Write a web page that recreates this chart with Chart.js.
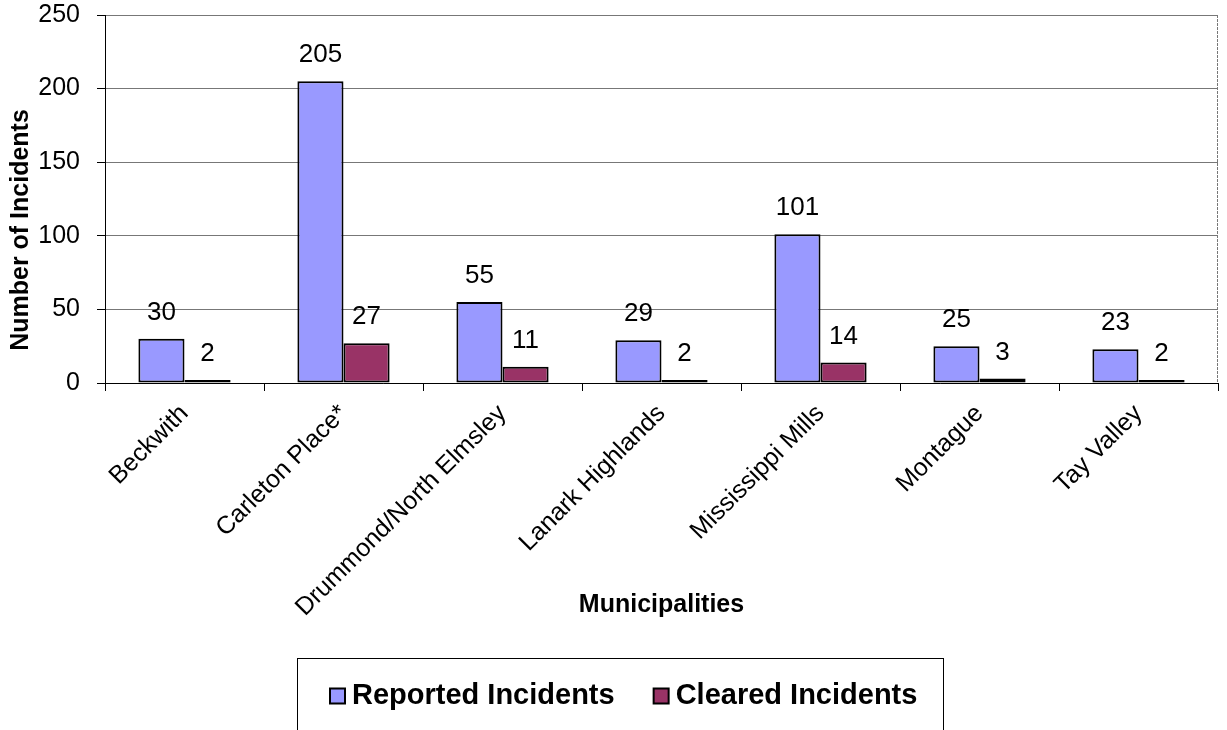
<!DOCTYPE html>
<html>
<head>
<meta charset="utf-8">
<script src="https://cdn.jsdelivr.net/npm/chart.js@4/dist/chart.umd.min.js"></script>
<style>
  html, body { margin: 0; padding: 0; background: #fff; }
  #wrap { width: 1227px; height: 730px; }
</style>
</head>
<body>
<div id="wrap"><canvas id="barChart" width="1227" height="730"></canvas></div>
<script>
const municipalities = [
  "Beckwith",
  "Carleton Place*",
  "Drummond/North Elmsley",
  "Lanark Highlands",
  "Mississippi Mills",
  "Montague",
  "Tay Valley",
];
const reportedIncidents = [30, 205, 55, 29, 101, 25, 23];
const clearedIncidents = [2, 27, 11, 2, 14, 3, 2];
const seriesNames = ["Reported Incidents", "Cleared Incidents"];
const yTickValues = [0, 50, 100, 150, 200, 250];
const yAxisTitle = "Number of Incidents";

const FONT = "'Liberation Sans', Arial, sans-serif";

// numbers above each bar
const valueLabels = {
  id: "valueLabels",
  afterDatasetsDraw(chart) {
    const ctx = chart.ctx;
    ctx.save();
    ctx.font = "26px " + FONT;
    ctx.fillStyle = "#000";
    ctx.textAlign = "center";
    ctx.textBaseline = "middle";
    chart.data.datasets.forEach((ds, i) => {
      chart.getDatasetMeta(i).data.forEach((bar, j) => {
        ctx.fillText(String(ds.data[j]), bar.x, bar.y - 26);
      });
    });
    ctx.restore();
  },
};

// dotted right edge of the plot area + y axis title (sits a bit low in the original)
const plotFrame = {
  id: "plotFrame",
  beforeDatasetsDraw(chart) {
    const { ctx, chartArea } = chart;
    ctx.save();
    ctx.strokeStyle = "#777";
    ctx.lineWidth = 1;
    ctx.setLineDash([3, 1]);
    ctx.beginPath();
    ctx.moveTo(chartArea.right - 0.5, chartArea.top);
    ctx.lineTo(chartArea.right - 0.5, chartArea.bottom);
    ctx.stroke();
    ctx.restore();

    ctx.save();
    ctx.translate(21, 230);
    ctx.rotate(-Math.PI / 2);
    ctx.font = "bold 25px " + FONT;
    ctx.fillStyle = "#000";
    ctx.textAlign = "center";
    ctx.textBaseline = "middle";
    ctx.fillText(yAxisTitle, 0, 0);
    ctx.restore();
  },
};

// boxed legend below the axis title
const boxLegend = {
  id: "boxLegend",
  afterDraw(chart) {
    const ctx = chart.ctx;
    const boxLeft = 297, boxTop = 658, boxWidth = 646, boxHeight = 80;
    ctx.save();
    ctx.strokeStyle = "#000";
    ctx.lineWidth = 1;
    ctx.strokeRect(boxLeft + 0.5, boxTop + 0.5, boxWidth, boxHeight);

    ctx.font = "bold 29px " + FONT;
    ctx.textBaseline = "middle";
    ctx.textAlign = "left";
    const sq = 15, gap = 7, spacing = 39;
    const widths = chart.data.datasets.map((ds) => ctx.measureText(ds.label).width);
    let total = 0;
    widths.forEach((w, i) => { total += sq + gap + w + (i ? spacing : 0); });
    let x = Math.round(boxLeft + (boxWidth - total) / 2) + 4;
    const cy = 696;
    chart.data.datasets.forEach((ds, i) => {
      ctx.fillStyle = ds.backgroundColor;
      ctx.fillRect(x, cy - sq / 2, sq, sq);
      ctx.lineWidth = 2;
      ctx.strokeStyle = "#000";
      ctx.strokeRect(x, cy - sq / 2, sq, sq);
      ctx.fillStyle = "#000";
      ctx.fillText(ds.label, x + sq + gap, cy);
      x += sq + gap + widths[i] + spacing;
    });
    ctx.restore();
  },
};

const data = {
  labels: municipalities,
  datasets: [
    {
      label: seriesNames[0],
      data: reportedIncidents,
      backgroundColor: "#9999FF",
      borderColor: "#000",
      borderWidth: 2,
      borderSkipped: false,
    },
    {
      label: seriesNames[1],
      data: clearedIncidents,
      backgroundColor: "#993366",
      borderColor: "#000",
      borderWidth: 2,
      borderSkipped: false,
    },
  ],
};

const config = {
  type: "bar",
  data: data,
  options: {
    responsive: false,
    animation: false,
    devicePixelRatio: 1,
    categoryPercentage: 0.58,
    barPercentage: 1,
    layout: { padding: { left: 0, right: 9, top: 15, bottom: 110 } },
    plugins: {
      legend: { display: false },
      tooltip: { enabled: false },
    },
    scales: {
      x: {
        grid: {
          display: true,
          drawOnChartArea: false,
          drawTicks: true,
          tickLength: 8,
          tickColor: "#000",
          offset: true,
        },
        border: { display: true, color: "#000", width: 1 },
        ticks: {
          color: "#000",
          font: { family: FONT, size: 25 },
          maxRotation: 45,
          minRotation: 45,
          autoSkip: false,
          padding: 8,
        },
        title: {
          display: true,
          text: "Municipalities",
          color: "#000",
          font: { family: FONT, size: 25, weight: "bold" },
          padding: 0,
        },
        afterFit(scale) {
          scale.height = 237;
          scale.paddingLeft = 0;
          scale.paddingRight = 0;
          scale.paddingTop = 0;
          scale.paddingBottom = 0;
        },
      },
      y: {
        min: 0,
        max: 250,
        afterBuildTicks(scale) {
          scale.ticks = yTickValues.map((v) => ({ value: v }));
        },
        grid: {
          color: "#777",
          borderDash: [3, 1],
          tickBorderDash: [],
          tickColor: "#000",
          tickLength: 8,
          lineWidth: 1,
        },
        border: { display: true, color: "#000", width: 1 },
        ticks: {
          color: "#000",
          font: { family: FONT, size: 25 },
          padding: 17,
        },
        title: { display: false },
        afterFit(scale) {
          scale.width = 105;
          scale.paddingTop = 0;
          scale.paddingBottom = 0;
        },
      },
    },
  },
  plugins: [plotFrame, valueLabels, boxLegend],
};

new Chart(document.getElementById("barChart"), config);
</script>
</body>
</html>
